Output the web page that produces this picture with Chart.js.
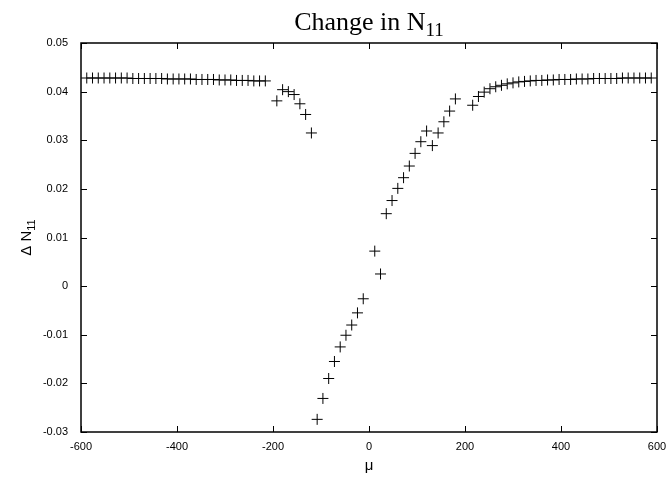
<!DOCTYPE html>
<html>
<head>
<meta charset="utf-8">
<script src="https://cdn.jsdelivr.net/npm/chart.js@4/dist/chart.umd.min.js"></script>
<style>
  html, body { margin: 0; padding: 0; background: #fff; }
</style>
</head>
<body>
<canvas id="chart" width="669" height="477"></canvas>
<script>
// mu values (x) and change in N11 (y)
const muValues = [
  -588, -576, -564, -552, -540, -528, -516, -504, -492, -480, -468, -456,
  -444, -432, -420, -408, -396, -384, -372, -360, -348, -336, -324, -312,
  -300, -288, -276, -264, -252, -240, -228, -216,
  -192, -180, -168, -156, -144, -132, -120,
  -108, -96, -84, -72, -60, -48, -36, -24, -12,
  12, 24, 36, 48, 60, 72, 84, 96, 108, 120, 132, 144, 156, 168, 180,
  216, 228, 240, 252, 264, 276, 288, 300, 312, 324, 336, 348, 360, 372,
  384, 396, 408, 420, 432, 444, 456, 468, 480, 492, 504, 516, 528, 540,
  552, 564, 576, 588
];
const deltaN11 = [
  0.0428, 0.0428, 0.0428, 0.0428, 0.0428, 0.0428, 0.0428, 0.0428, 0.0427, 0.0427, 0.0427, 0.0427,
  0.0427, 0.0427, 0.0426, 0.0426, 0.0426, 0.0426, 0.0426, 0.0425, 0.0425, 0.0425, 0.0425, 0.0424,
  0.0424, 0.0424, 0.0423, 0.0423, 0.0423, 0.0422, 0.0422, 0.0422,
  0.0381, 0.0404, 0.0400, 0.0394, 0.0375, 0.0353, 0.0315,
  -0.0274, -0.0231, -0.0190, -0.0155, -0.0125, -0.0101, -0.0080, -0.0055, -0.0026,
  0.0072, 0.0025, 0.0149, 0.0176, 0.0201, 0.0223, 0.0247, 0.0273, 0.0297, 0.0319, 0.0289, 0.0315, 0.0338, 0.0360, 0.0385,
  0.0372, 0.0390, 0.0399, 0.0406, 0.0410, 0.0413, 0.0416, 0.0418, 0.0420, 0.0421, 0.0422, 0.0423, 0.0423, 0.0424,
  0.0424, 0.0425, 0.0425, 0.0425, 0.0426, 0.0426, 0.0426, 0.0427, 0.0427, 0.0427, 0.0427, 0.0427, 0.0428, 0.0428,
  0.0428, 0.0428, 0.0428, 0.0428
];
const xTicks = [-600, -400, -200, 0, 200, 400, 600];
const yTicks = [-0.03, -0.02, -0.01, 0, 0.01, 0.02, 0.03, 0.04, 0.05];

const titleMain = "Change in N";
const titleSub = "11";
const yTitleMain = "\u0394 N";
const yTitleSub = "11";
const xTitle = "\u03bc";

const points = muValues.map((mu, i) => ({ x: mu, y: deltaN11[i] }));

// gnuplot style frame: box, inward ticks on all sides, titles with subscripts
const gnuplotFrame = {
  id: "gnuplotFrame",
  afterDraw(chart) {
    const ctx = chart.ctx;
    const area = chart.chartArea;
    const xs = chart.scales.x;
    const ys = chart.scales.y;
    const tick = 6;
    ctx.save();
    ctx.strokeStyle = "#000";
    ctx.lineWidth = 1.5;
    ctx.strokeRect(area.left, area.top, area.right - area.left, area.bottom - area.top);
    ctx.lineWidth = 1;
    ctx.beginPath();
    xTicks.forEach((v) => {
      const px = Math.round(xs.getPixelForValue(v)) + 0.5;
      ctx.moveTo(px, area.bottom);
      ctx.lineTo(px, area.bottom - tick);
      ctx.moveTo(px, area.top);
      ctx.lineTo(px, area.top + tick);
    });
    yTicks.forEach((v) => {
      const py = Math.round(ys.getPixelForValue(v)) + 0.5;
      ctx.moveTo(area.left, py);
      ctx.lineTo(area.left + tick, py);
      ctx.moveTo(area.right, py);
      ctx.lineTo(area.right - tick, py);
    });
    ctx.stroke();

    ctx.fillStyle = "#000";
    ctx.textBaseline = "alphabetic";

    // title
    const cx = (area.left + area.right) / 2;
    ctx.font = "26px 'Liberation Serif'";
    const w1 = ctx.measureText(titleMain).width;
    ctx.font = "19px 'Liberation Serif'";
    const w2 = ctx.measureText(titleSub).width;
    let tx = cx - (w1 + w2) / 2;
    ctx.textAlign = "left";
    ctx.font = "26px 'Liberation Serif'";
    ctx.fillText(titleMain, tx, 30);
    ctx.font = "19px 'Liberation Serif'";
    ctx.fillText(titleSub, tx + w1, 36);

    // x title
    ctx.font = "15px 'Liberation Sans'";
    ctx.textAlign = "center";
    ctx.fillText(xTitle, cx, 470);

    // y title, rotated
    const cy = (area.top + area.bottom) / 2;
    ctx.translate(31, cy);
    ctx.rotate(-Math.PI / 2);
    ctx.font = "15px 'Liberation Sans'";
    const yw1 = ctx.measureText(yTitleMain).width;
    ctx.font = "11px 'Liberation Sans'";
    const yw2 = ctx.measureText(yTitleSub).width;
    ctx.textAlign = "left";
    const sx = -(yw1 + yw2) / 2;
    ctx.font = "15px 'Liberation Sans'";
    ctx.fillText(yTitleMain, sx, 0);
    ctx.font = "11px 'Liberation Sans'";
    ctx.fillText(yTitleSub, sx + yw1, 4);
    ctx.restore();
  },
};

new Chart(document.getElementById("chart"), {
  type: "scatter",
  data: {
    datasets: [
      {
        label: "delta N11",
        data: points,
        pointStyle: "cross",
        pointRadius: 5.5,
        pointBorderWidth: 1,
        borderColor: "#000",
        backgroundColor: "#000",
        showLine: false,
      },
    ],
  },
  options: {
    responsive: false,
    animation: false,
    layout: { padding: { left: 0, right: 12, top: 43, bottom: 0 } },
    plugins: {
      legend: { display: false },
      tooltip: { enabled: false },
    },
    scales: {
      x: {
        type: "linear",
        min: -600,
        max: 600,
        afterBuildTicks: (scale) => {
          scale.ticks = xTicks.map((v) => ({ value: v }));
        },
        afterFit: (scale) => {
          scale.height = 45;
          scale.paddingLeft = 0;
          scale.paddingRight = 0;
        },
        grid: { display: false, drawTicks: false },
        border: { display: false },
        ticks: {
          color: "#000",
          font: { family: "'Liberation Sans'", size: 11 },
          padding: 8,
          maxRotation: 0,
        },
      },
      y: {
        type: "linear",
        min: -0.03,
        max: 0.05,
        afterBuildTicks: (scale) => {
          scale.ticks = yTicks.map((v) => ({ value: v }));
        },
        afterFit: (scale) => {
          scale.width = 81;
          scale.paddingTop = 0;
          scale.paddingBottom = 0;
        },
        grid: { display: false, drawTicks: false },
        border: { display: false },
        ticks: {
          color: "#000",
          font: { family: "'Liberation Sans'", size: 11 },
          padding: 13,
          callback: (v) => String(Number(v.toFixed(2))),
        },
      },
    },
  },
  plugins: [gnuplotFrame],
});
</script>
</body>
</html>
